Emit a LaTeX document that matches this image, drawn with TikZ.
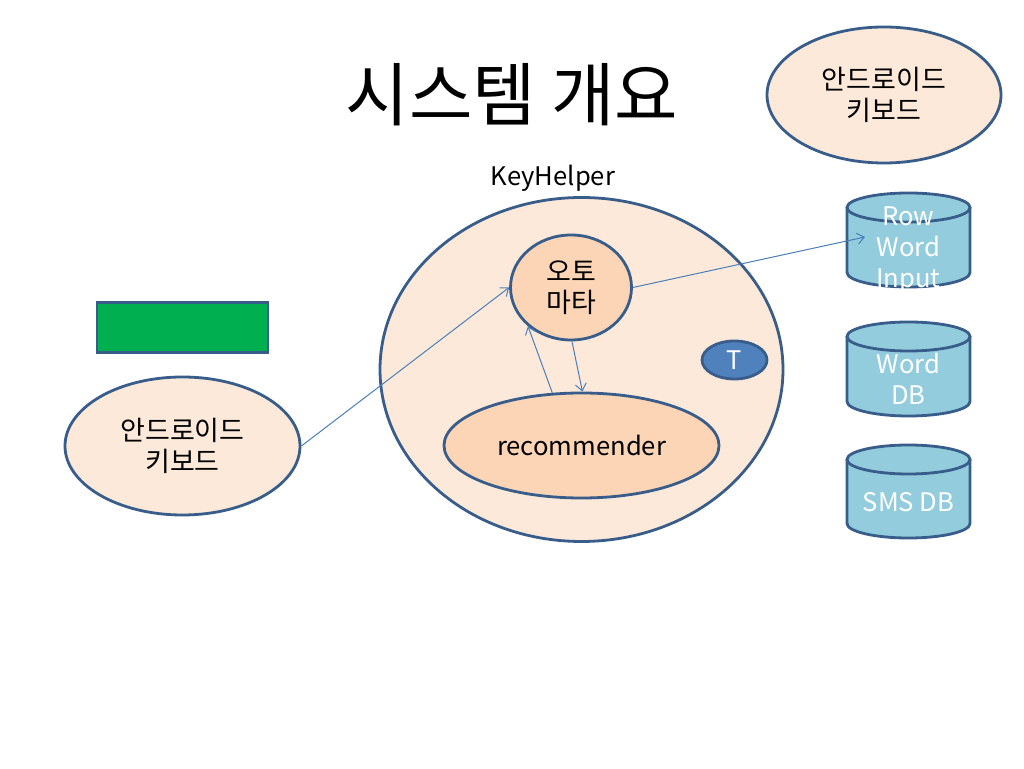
\documentclass[tikz,border=0pt]{standalone}
\usepackage{fontspec}
\setmainfont{Noto Sans CJK KR}
\usetikzlibrary{shapes.geometric,arrows.meta}
\definecolor{peachL}{HTML}{FDE9D9}
\definecolor{peachM}{HTML}{FBD5B5}
\definecolor{bord}{HTML}{385D8A}
\definecolor{tblue}{HTML}{4F81BD}
\definecolor{cylc}{HTML}{93CDDD}
\definecolor{grn}{HTML}{00B050}
\definecolor{arr}{HTML}{4A7EBB}
\tikzset{
  bodyf/.style={font=\fontsize{25.6}{31}\selectfont},
  korf/.style={font=\fontsize{27}{31}\selectfont},
  oval/.style={ellipse, draw=bord, line width=2.8pt, inner sep=0pt, align=center, bodyf},
  link/.style={draw=arr, line width=1pt, -{Straight Barb[length=7pt,width=11pt]}},
  cylout/.style={draw=bord, line width=2.8pt},
  cyltxt/.style={bodyf, text=white, align=center}
}
\begin{document}
\begin{tikzpicture}[x=1pt,y=1pt]
\useasboundingbox (0,0) rectangle (1024,768);
\fill[white] (0,0) rectangle (1024,768);

\node[font=\fontsize{69}{76}\selectfont] (title) at (512,673) {시스템 개요};

\node[oval, korf, fill=peachL, minimum width=234, minimum height=136] (kbdR) at (884,673) {안드로이드\\키보드};

\node[bodyf] (kh) at (553,590) {KeyHelper};

\node[oval, fill=peachL, minimum width=403, minimum height=344] (big) at (581.5,398.5) {};
\node[oval, korf, fill=peachM, minimum width=121, minimum height=105] (auto) at (571,480.5) {오토\\마타};
\node[oval, fill=peachM, minimum width=275, minimum height=105] (rec) at (581.5,322.5) {recommender};
\node[oval, fill=tblue, text=white, minimum width=65, minimum height=38] (t) at (734.5,408) {T};

\node[draw=bord, line width=2.8pt, fill=grn, minimum width=171, minimum height=50, inner sep=0pt] (green) at (182.5,440.5) {};
\node[oval, korf, fill=peachL, minimum width=235, minimum height=138] (kbdL) at (182.5,322) {안드로이드\\키보드};

% cylinders
\foreach \tp/\bt in {560.5/495.5, 431.5/366.5, 308.5/244.5}{
  \fill[cylc] (847,\tp) -- (847,\bt) arc[start angle=180,end angle=360,x radius=61.5,y radius=14.5] -- (970,\tp) -- cycle;
  \fill[cylc] (908.5,\tp) ellipse[x radius=61.5,y radius=14.5];
  \draw[cylout] (847,\tp) -- (847,\bt) arc[start angle=180,end angle=360,x radius=61.5,y radius=14.5] -- (970,\tp);
  \draw[cylout] (908.5,\tp) ellipse[x radius=61.5,y radius=14.5];
}
\node[cyltxt] (db1) at (908.5,518) {Row\\Word\\Input};
\node[cyltxt] (db2) at (908.5,389.5) {Word\\DB};
\node[cyltxt] (db3) at (908.5,266) {SMS DB};
\coordinate (dbin) at (865,531);

% connectors
\draw[link] (kbdL.east) -- (auto.west);
\draw[link] (auto.east) -- (dbin);
\draw[link] (rec.119) -- (auto.222);
\draw[link] (auto.271) -- (rec.89);
\end{tikzpicture}
\end{document}
